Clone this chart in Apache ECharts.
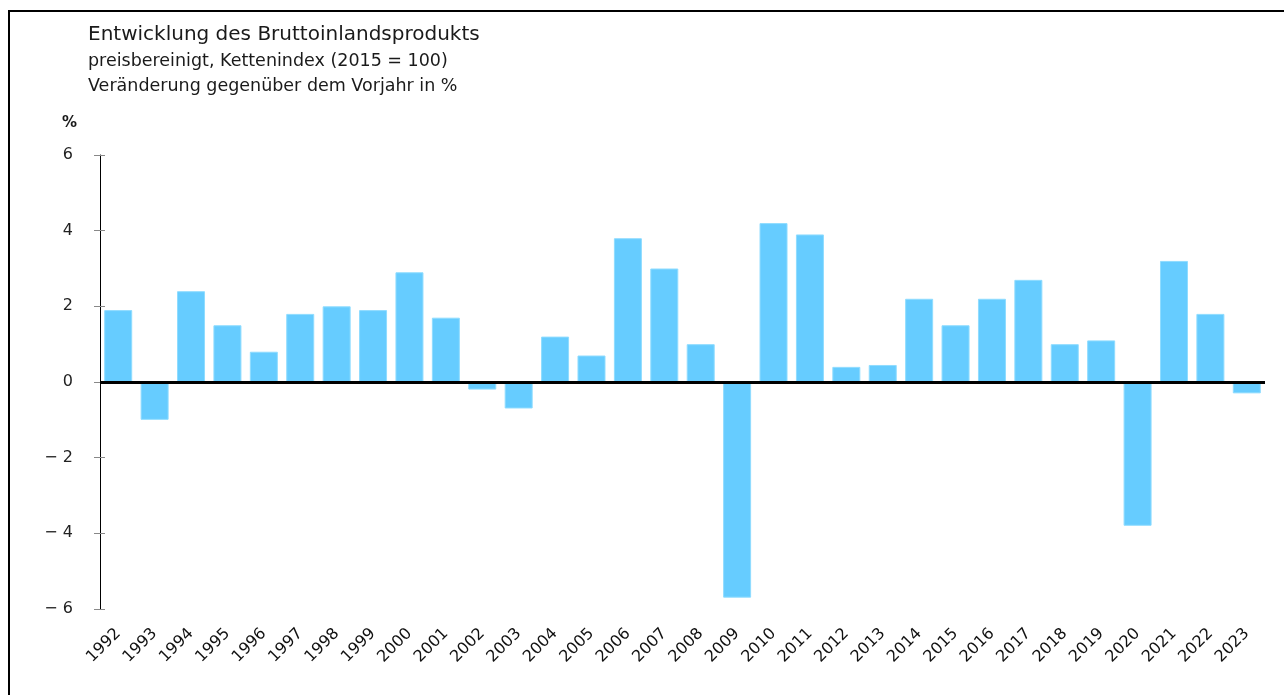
<!DOCTYPE html>
<html>
<head>
    <meta charset="utf-8">
    <title>BIP</title>
    <script src="https://cdn.jsdelivr.net/npm/echarts@6/dist/echarts.min.js"></script>
    <style>
        html, body { margin: 0; padding: 0; background: #fff; }
        #main { width: 1284px; height: 695px; }
    </style>
</head>
<body>
<div id="main"></div>
<script type="text/javascript">
    // years and growth rates (% vs previous year)
    var years = ['1992', '1993', '1994', '1995', '1996', '1997', '1998', '1999', '2000', '2001',
        '2002', '2003', '2004', '2005', '2006', '2007', '2008', '2009', '2010', '2011',
        '2012', '2013', '2014', '2015', '2016', '2017', '2018', '2019', '2020', '2021',
        '2022', '2023'];
    var growth = [1.9, -1.0, 2.4, 1.5, 0.8, 1.8, 2.0, 1.9, 2.9, 1.7,
        -0.2, -0.7, 1.2, 0.7, 3.8, 3.0, 1.0, -5.7, 4.2, 3.9,
        0.4, 0.45, 2.2, 1.5, 2.2, 2.7, 1.0, 1.1, -3.8, 3.2,
        1.8, -0.3];
    var titleLines = ['Entwicklung des Bruttoinlandsprodukts',
        'preisbereinigt, Kettenindex (2015 = 100)',
        'Veränderung gegenüber dem Vorjahr in %'];

    var font = '"DejaVu Sans", "Noto Sans", sans-serif';
    var chart = echarts.init(document.getElementById('main'));
    var gridPos = { left: 100, right: 19, top: 155, bottom: 86 };

    var option = {
        animation: false,
        backgroundColor: '#fff',
        textStyle: { fontFamily: font },
        // second grid only carries the inner half of the y ticks
        grid: [gridPos, gridPos],
        graphic: [
            // frame
            { type: 'rect', shape: { x: 9, y: 11, width: 1300, height: 700 },
              style: { fill: 'none', stroke: '#000', lineWidth: 2 } },
            { type: 'text', left: 88, top: 25,
              style: { text: titleLines[0], font: '20px ' + font, fill: '#1a1a1a' } },
            { type: 'text', left: 88, top: 52,
              style: { text: titleLines[1], font: '17.5px ' + font, fill: '#1a1a1a' } },
            { type: 'text', left: 88, top: 77,
              style: { text: titleLines[2], font: '17.5px ' + font, fill: '#1a1a1a' } },
            { type: 'text', left: 62, top: 116,
              style: { text: '%', font: 'bold 15px ' + font, fill: '#1a1a1a' } }
        ],
        xAxis: [{
            type: 'category',
            data: years,
            position: 'bottom',
            axisLine: { show: false, onZero: false },
            axisTick: { show: false },
            axisLabel: { rotate: 45, fontSize: 16, color: '#111', margin: 22, interval: 0 }
        }, {
            type: 'category',
            gridIndex: 1,
            data: years,
            show: false
        }],
        yAxis: [{
            type: 'value',
            min: -6, max: 6, interval: 2,
            axisLine: { show: true, lineStyle: { color: '#000', width: 1 } },
            axisTick: { show: true, length: 6, lineStyle: { color: '#888' } },
            splitLine: { show: false },
            axisLabel: {
                fontSize: 16, color: '#222', margin: 27, padding: [3, 0, 0, 0],
                formatter: function (v) { return v < 0 ? '\u2212 ' + Math.abs(v) : String(v); }
            }
        }, {
            type: 'value',
            gridIndex: 1,
            position: 'left',
            min: -6, max: 6, interval: 2,
            axisLine: { show: false },
            axisTick: { show: true, inside: true, length: 5, lineStyle: { color: '#888' } },
            splitLine: { show: false },
            axisLabel: { show: false }
        }],
        series: [{
            type: 'bar',
            data: growth,
            barWidth: 28,
            itemStyle: { color: '#66ccff', borderColor: '#8fdcff', borderWidth: 1 },
            markLine: {
                silent: true,
                symbol: 'none',
                label: { show: false },
                lineStyle: { color: '#000', width: 3, type: 'solid' },
                data: [{ yAxis: 0 }]
            }
        }]
    };

    chart.setOption(option);
</script>
</body>
</html>
